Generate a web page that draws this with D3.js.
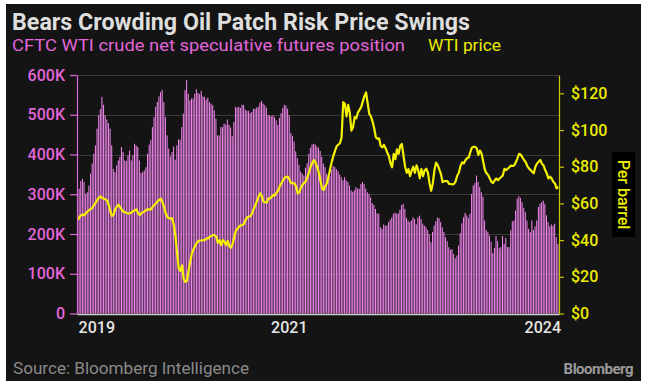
<!DOCTYPE html>
<html>
<head>
<meta charset="utf-8">
<script src="https://cdn.jsdelivr.net/npm/d3@7"></script>
<style>
body { margin: 0; background: #ffffff; }
text { font-family: Roboto, "Noto Sans", sans-serif; }
</style>
</head>
<body>
<div id="chart"></div>
<script>
// weekly CFTC reports, first one
var startDate = "2019-01-08";

// CFTC WTI crude net speculative futures position, thousands of contracts
var positionK = [
    280, 314, 333, 339, 331, 301, 305, 322, 352, 377,
    402, 423, 465, 499, 514, 545, 525, 499, 488, 479,
    465, 423, 364, 356, 373, 385, 394, 419, 406, 385,
    384, 398, 410, 385, 398, 427, 423, 419, 385, 353,
    356, 360, 368, 402, 425, 436, 469, 494, 520, 532,
    546, 557, 563, 532, 494, 448, 415, 395, 406, 420,
    387, 423, 438, 437, 469, 503, 562, 587, 553, 536,
    541, 541, 553, 564, 555, 552, 560, 546, 545, 538,
    543, 532, 528, 524, 511, 490, 448, 448, 469, 469,
    478, 475, 488, 475, 468, 446, 482, 520, 518, 520,
    517, 525, 525, 513, 510, 510, 504, 507, 515, 515,
    518, 520, 530, 535, 528, 524, 518, 499, 499, 496,
    499, 494, 486, 475, 492, 504, 517, 525, 523, 515,
    499, 454, 447, 433, 408, 391, 374, 357, 352, 347,
    367, 378, 402, 417, 425, 427, 425, 420, 417, 409,
    394, 377, 368, 352, 339, 345, 362, 371, 368, 363,
    358, 350, 343, 335, 343, 335, 331, 322, 310, 306,
    310, 318, 314, 314, 326, 331, 326, 314, 305, 301,
    292, 278, 273, 263, 252, 251, 217, 213, 224, 221,
    221, 230, 236, 242, 251, 254, 251, 252, 261, 273,
    276, 263, 241, 234, 230, 234, 242, 238, 224, 242,
    246, 238, 226, 221, 217, 210, 200, 179, 205, 221,
    232, 241, 240, 230, 217, 205, 192, 182, 167, 160,
    162, 150, 139, 146, 171, 202, 227, 242, 253, 247,
    241, 251, 301, 322, 328, 347, 331, 318, 305, 294,
    234, 210, 205, 196, 181, 152, 165, 195, 182, 164,
    167, 195, 175, 190, 167, 167, 209, 232, 234, 259,
    289, 295, 291, 280, 266, 255, 234, 213, 205, 234,
    210, 219, 234, 268, 276, 280, 284, 276, 247, 230,
    219, 224, 221, 226, 192, 175
];

// WTI price, $ per barrel
var wtiPrice = [
    51, 52.6, 53.6, 54, 53.6, 54.6, 55.7, 56.3, 57, 57.6,
    59.2, 60.4, 62, 63.2, 63.8, 63, 62.6, 62.1, 61.6, 59.1,
    55.5, 53.1, 54, 56.9, 58.3, 59.3, 57.9, 56.5, 55.5, 55.2,
    54.8, 54.6, 54.7, 55, 55.9, 56.2, 56.8, 54.7, 53.6, 54.6,
    55.1, 55.7, 56.4, 56.8, 56.8, 56.8, 58.2, 59.1, 60, 61.1,
    61.9, 62.6, 60.7, 58, 54.5, 52.5, 52, 51.7, 51.8, 48,
    41.8, 32.7, 24.5, 23.2, 26.3, 19, 17.2, 17.8, 23.1, 28.2,
    32.7, 34.9, 36.7, 38.5, 39.4, 39.8, 39.8, 40, 40, 40.9,
    40.9, 41.8, 42.2, 42.7, 42.7, 41.8, 38.5, 40, 37.3, 40,
    39.1, 37.3, 39.6, 36.7, 35.8, 37.8, 41.4, 44.9, 46.2, 47.3,
    48, 48.2, 48.7, 50.9, 52.4, 52.7, 53.1, 54.5, 56.9, 58.9,
    61.3, 63.6, 65.5, 64, 60.9, 60.7, 60.4, 62.7, 62.7, 63.5,
    64.6, 64.3, 65.8, 67, 69.3, 71, 72.5, 74, 74.4, 74.6,
    72.9, 71, 71.1, 70.9, 69.3, 65.5, 66, 68.5, 70.2, 71.1,
    72.1, 74.3, 77, 80, 82.1, 83.6, 82.2, 79.7, 77, 72.3,
    68.2, 67.3, 69.5, 71, 74.6, 79.1, 82.8, 86.1, 88.8, 91.2,
    92.1, 92.8, 96.1, 115.2, 114.3, 107.4, 113.7, 109.5, 99.7, 101.4,
    107, 106.4, 109.5, 111, 112.5, 115.5, 118.5, 120.5, 114.6, 108.8,
    107.4, 104.6, 101, 96.1, 95.2, 95.5, 91.3, 90.6, 91.9, 90.1,
    87.7, 85.9, 81.9, 79.7, 87, 84.1, 89.5, 87, 91.3, 92.4,
    86, 80, 76.7, 78.7, 74.9, 77.8, 80, 76.7, 80.7, 78.2,
    73.7, 78.7, 74.9, 78, 78.9, 76.7, 70.9, 66.9, 70.9, 78.2,
    82.2, 80.9, 78.6, 76, 71.6, 72.2, 72.2, 72.2, 70.6, 70.6,
    70.4, 70.6, 72, 75.1, 76.7, 80.4, 82.4, 81.8, 83.5, 84.6,
    85, 87.8, 90.4, 90.9, 90.9, 90, 86.4, 88.8, 87, 82.6,
    78.2, 76.4, 75.5, 73.6, 71.8, 71.1, 72.6, 73.6, 72.7, 73.6,
    74.4, 75.3, 78.9, 78.2, 78.9, 79.7, 80.6, 80.4, 80.7, 82.4,
    84.6, 87, 86.6, 85.1, 83.7, 82.6, 80.4, 79.1, 78.2, 77.3,
    76.4, 80, 81.8, 82.7, 83.7, 81.7, 80.7, 78.2, 76.4, 73.6,
    74.6, 73.6, 71.8, 70.9, 68.2, 69.1
];

var leftTicks = [0, 100, 200, 300, 400, 500, 600];
var rightTicks = [0, 20, 40, 60, 80, 100, 120];
var yearLabels = ["2019", "2021", "2024"];
var yearTickDates = ["2019-01-05", "2021-07-03", "2024-08-31"];

var svgWidth = 649;
var svgHeight = 387;

var plot = { left: 77, right: 559, top: 75, bottom: 313.5 };

var pink = "#e266da";
var yellow = "#ecec00";

var svg = d3.select("#chart")
    .append("svg")
    .attr("width", svgWidth)
    .attr("height", svgHeight);

svg.append("rect")
    .attr("x", 6)
    .attr("y", 4)
    .attr("width", 635)
    .attr("height", 377)
    .attr("fill", "#141414");

var parseDate = d3.timeParse("%Y-%m-%d");
var first = parseDate(startDate);
var weeks = positionK.map((d, i) => d3.timeDay.offset(first, 7 * i));

var xScale = d3.scaleTime()
    .domain([d3.timeHour.offset(weeks[0], -84), d3.timeHour.offset(weeks[weeks.length - 1], 84)])
    .range([plot.left, plot.right]);

var yLeft = d3.scaleLinear()
    .domain([0, 600])
    .range([plot.bottom, plot.top]);

var yRight = d3.scaleLinear()
    .domain([0, 130])
    .range([plot.bottom, plot.top]);

var barStep = xScale(weeks[1]) - xScale(weeks[0]);

// gridlines
svg.append("g")
    .selectAll("line")
    .data(leftTicks.slice(1))
    .enter()
    .append("line")
    .attr("x1", plot.left)
    .attr("x2", plot.right)
    .attr("y1", d => Math.round(yLeft(d)) + 0.5)
    .attr("y2", d => Math.round(yLeft(d)) + 0.5)
    .attr("stroke", "#3b3b3b")
    .attr("stroke-width", 1);

// bars
svg.append("g")
    .selectAll("rect")
    .data(positionK)
    .enter()
    .append("rect")
    .attr("x", (d, i) => xScale(weeks[i]) - barStep / 2)
    .attr("y", d => yLeft(d))
    .attr("width", barStep - 0.6)
    .attr("height", d => plot.bottom - yLeft(d))
    .attr("fill", "#f386ef");

// price line
var priceLine = d3.line()
    .x((d, i) => xScale(weeks[i]))
    .y(d => yRight(d))
    .curve(d3.curveLinear);

svg.append("path")
    .datum(wtiPrice)
    .attr("d", priceLine)
    .attr("fill", "none")
    .attr("stroke", "#f4f200")
    .attr("stroke-width", 2.2)
    .attr("stroke-linejoin", "round");

// axes
var leftAxis = d3.axisLeft(yLeft)
    .tickValues(leftTicks)
    .tickSize(7)
    .tickSizeOuter(0)
    .tickPadding(5)
    .tickFormat(d => d === 0 ? "0" : d + "K");

var gLeft = svg.append("g")
    .attr("transform", `translate(${plot.left}, 0)`)
    .call(leftAxis);
gLeft.selectAll("path, line").attr("stroke", pink).attr("stroke-width", 1.2);
gLeft.selectAll("text")
    .attr("fill", pink)
    .style("font-size", "16px")
    .style("font-weight", 500);

var rightAxis = d3.axisRight(yRight)
    .tickValues(rightTicks)
    .tickSize(5)
    .tickSizeOuter(0)
    .tickPadding(7)
    .tickFormat(d => "$" + d);

var gRight = svg.append("g")
    .attr("transform", `translate(${plot.right}, 0)`)
    .call(rightAxis);
gRight.selectAll("path, line").attr("stroke", "#c8c800").attr("stroke-width", 1.2);
gRight.selectAll("text")
    .attr("fill", yellow)
    .style("font-size", "16px")
    .style("font-weight", 500);

var bottomAxis = d3.axisBottom(xScale)
    .tickValues(yearTickDates.map(parseDate))
    .tickSize(0)
    .tickSizeOuter(0)
    .tickPadding(8)
    .tickFormat((d, i) => yearLabels[i]);

var gBottom = svg.append("g")
    .attr("transform", `translate(0, ${plot.bottom + 0.5})`)
    .call(bottomAxis);
gBottom.select(".domain").attr("stroke", "#d0d0d0").attr("stroke-width", 1.6);
gBottom.selectAll("text")
    .attr("fill", "#e6e6e6")
    .style("font-size", "16px")
    .style("font-weight", 500)
    .attr("text-anchor", (d, i) => i === 0 ? "start" : (i === yearLabels.length - 1 ? "end" : "middle"))
    .attr("dx", (d, i) => i === 0 ? 1 : (i === yearLabels.length - 1 ? 3 : 0));

// "Per barrel" label
svg.append("rect")
    .attr("x", 612)
    .attr("y", 152)
    .attr("width", 23)
    .attr("height", 85)
    .attr("fill", "#000000");

svg.append("text")
    .attr("transform", "translate(623.5, 194.5) rotate(90)")
    .attr("text-anchor", "middle")
    .attr("dominant-baseline", "central")
    .attr("fill", yellow)
    .style("font-size", "16px")
    .style("font-weight", 500)
    .text("Per barrel");

// title and subtitle
svg.append("text")
    .attr("x", 12)
    .attr("y", 30)
    .attr("fill", "#dedede")
    .attr("textLength", 458)
    .attr("lengthAdjust", "spacingAndGlyphs")
    .style("font-size", "23px")
    .style("font-weight", 700)
    .text("Bears Crowding Oil Patch Risk Price Swings");

svg.append("text")
    .attr("x", 12)
    .attr("y", 51)
    .attr("fill", pink)
    .attr("textLength", 393)
    .attr("lengthAdjust", "spacingAndGlyphs")
    .style("font-size", "17px")
    .text("CFTC WTI crude net speculative futures position");

svg.append("text")
    .attr("x", 428)
    .attr("y", 51)
    .attr("fill", yellow)
    .attr("textLength", 73)
    .attr("lengthAdjust", "spacingAndGlyphs")
    .style("font-size", "17px")
    .text("WTI price");

// footer
svg.append("text")
    .attr("x", 13)
    .attr("y", 374)
    .attr("fill", "#8a8a8a")
    .attr("textLength", 236)
    .attr("lengthAdjust", "spacingAndGlyphs")
    .style("font-size", "16px")
    .text("Source: Bloomberg Intelligence");

svg.append("text")
    .attr("x", 633)
    .attr("y", 374)
    .attr("text-anchor", "end")
    .attr("fill", "#9a9a9a")
    .style("font-size", "15px")
    .style("font-weight", 700)
    .style("letter-spacing", "-0.5px")
    .text("Bloomberg");
</script>
</body>
</html>
